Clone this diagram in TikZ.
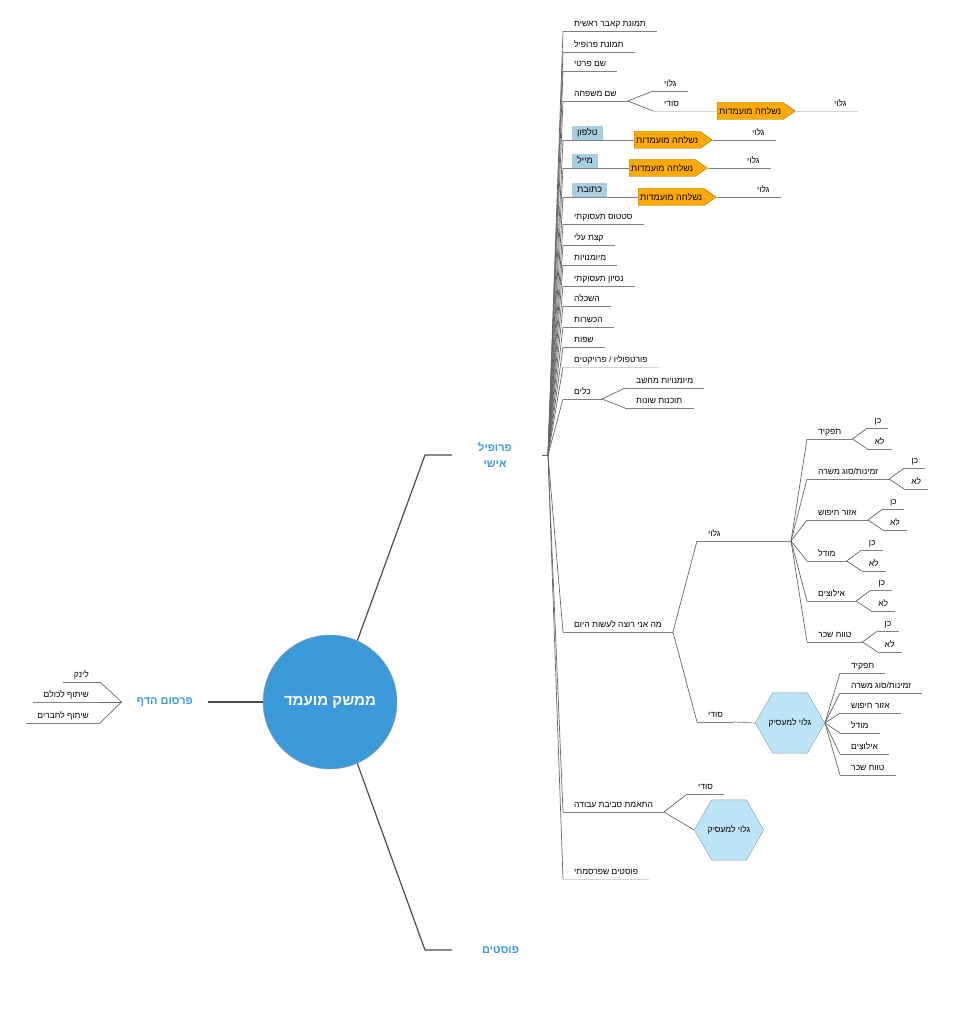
\documentclass[tikz,border=0pt]{standalone}
\usepackage{fontspec}
\usetikzlibrary{positioning,shapes.geometric,shapes.symbols}
\newfontfamily\hebfont[Script=Hebrew]{Liberation Sans}
\TeXXeTstate=1
\newcommand\heb[1]{\beginR#1\endR}
\newcommand\smallheb{\hebfont\fontsize{8.5}{10}\selectfont}
\newcommand\boxheb{\hebfont\fontsize{9}{11}\selectfont}
\newcommand\topicheb{\hebfont\bfseries\fontsize{11}{16}\selectfont}
\newcommand\centerheb{\hebfont\bfseries\fontsize{15}{18}\selectfont}
\definecolor{linegray}{HTML}{808080}
\definecolor{fangray}{HTML}{666666}
\definecolor{faintgray}{HTML}{D4D4D4}
\definecolor{darkline}{HTML}{4D4D4D}
\definecolor{topicblue}{HTML}{3A9AD9}
\definecolor{circleedge}{HTML}{9A9A9A}
\definecolor{fieldblue}{HTML}{A9CEDF}
\definecolor{hexblue}{HTML}{BDE5F7}
\definecolor{hexedge}{HTML}{7F9CA8}
\definecolor{sentorange}{HTML}{FFAA00}
\definecolor{sentedge}{HTML}{A07000}

\tikzset{
  leaf/.style={font=\smallheb, inner xsep=11pt, inner ysep=2.5pt,
    text height=6.5pt, text depth=1.5pt, anchor=south west,
    append after command={\pgfextra{\let\ulnode\tikzlastnode}
      (\ulnode.south west) edge[draw=#1, line width=0.7pt] (\ulnode.south east)}},
  leaf/.default=linegray,
  yn/.style={leaf, inner xsep=7pt},
  uline/.style={draw=linegray, line width=0.7pt},
  fan/.style={draw=fangray, line width=0.7pt},
  branch/.style={draw=darkline, line width=1.2pt},
  topic/.style={font=\topicheb, text=topicblue},
  field/.style={fill=fieldblue, font=\boxheb, inner xsep=5pt, inner ysep=2.5pt,
    text height=7pt, text depth=1.5pt, anchor=south west},
  sent/.style={signal, signal to=east, signal pointer angle=70, fill=sentorange,
    draw=sentedge, minimum height=17pt, minimum width=78pt, inner xsep=1pt,
    inner ysep=1pt, font=\boxheb, anchor=west},
  employer/.style={regular polygon, regular polygon sides=6, fill=hexblue,
    draw=hexedge, inner sep=0pt, font=\smallheb},
}

\begin{document}
\begin{tikzpicture}[x=1pt,y=-1pt]
\useasboundingbox (0,0) rectangle (970,1024);

% center and main topics
\node[circle, fill=topicblue, draw=circleedge, minimum size=134pt,
      font=\centerheb, text=white] (cand) at (330,702) {\heb{ממשק מועמד}};
\node[topic, anchor=west, inner xsep=26pt, align=center] (profile) at (452,455)
      {\heb{פרופיל}\\\heb{אישי}};
\node[topic, anchor=west, inner xsep=30pt] (posts) at (452,950) {\heb{פוסטים}};
\node[topic, anchor=east, inner xsep=15pt] (pub) at (208,702) {\heb{פרסום הדף}};

\coordinate (bendup) at (425,455);
\coordinate (benddown) at (425,950);
\coordinate (hub) at (548,455);
\draw[branch] (cand.66) -- (bendup) -- (profile.west);
\draw[branch] (cand.-66) -- (benddown) -- (posts.west);
\draw[branch] (cand.west) -- (pub.east);
\draw[fan] (hub) -- +(-6pt,0);

% page publishing
\node[leaf, anchor=south east] (link) at (100,682) {\heb{לינק}};
\node[leaf, anchor=south east] (shareall) at (100,702) {\heb{שיתוף לכולם}};
\node[leaf, anchor=south east] (sharefr) at (100,723) {\heb{שיתוף לחברים}};
\path[fan] (pub.west) edge (link.south east) edge (shareall.south east)
  edge (sharefr.south east);

% profile items
\node[leaf] (cover) at (563,31) {\heb{תמונת קאבר ראשית}};
\node[leaf] (pic) at (563,52) {\heb{תמונת פרופיל}};
\node[leaf] (fname) at (563,71) {\heb{שם פרטי}};
\node[leaf] (lname) at (563,101) {\heb{שם משפחה}};
\node[field] (tel) at (572,140) {\heb{טלפון}};
\node[field] (mail) at (572,168) {\heb{מייל}};
\node[field] (addr) at (572,197) {\heb{כתובת}};
\node[leaf] (status) at (563,224) {\heb{סטטוס תעסוקתי}};
\node[leaf] (about) at (563,245) {\heb{קצת עלי}};
\node[leaf] (skills) at (563,265) {\heb{מיומנויות}};
\node[leaf] (exper) at (563,286) {\heb{נסיון תעסוקתי}};
\node[leaf] (edu) at (563,306) {\heb{השכלה}};
\node[leaf] (train) at (563,327) {\heb{הכשרות}};
\node[leaf] (langs) at (563,347) {\heb{שפות}};
\node[leaf=faintgray] (portf) at (563,367) {\heb{פורטפוליו / פרויקטים}};
\node[leaf] (tools) at (563,399) {\heb{כלים}};
\node[leaf] (want) at (563,632) {\heb{מה אני רוצה לעשות היום}};
\node[leaf] (env) at (563,812) {\heb{התאמת סביבת עבודה}};
\node[leaf=faintgray] (myposts) at (563,879) {\heb{פוסטים שפרסמתי}};

\path[fan] (hub) edge (cover.south west) edge (pic.south west)
  edge (fname.south west) edge (lname.south west)
  edge ([xshift=-9pt]tel.south west) edge ([xshift=-9pt]mail.south west)
  edge ([xshift=-9pt]addr.south west) edge (status.south west)
  edge (about.south west) edge (skills.south west) edge (exper.south west)
  edge (edu.south west) edge (train.south west) edge (langs.south west)
  edge (portf.south west) edge (tools.south west) edge (want.south west)
  edge (env.south west) edge (myposts.south west);

% family name
\node[leaf] (lngl) at (653,91) {\heb{גלוי}};
\node[leaf=faintgray] (lnsd) at (653,111) {\heb{סודי}};
\node[sent] (sent0) at (717,111) {\heb{נשלחה מועמדות}};
\node[leaf=faintgray] (lngl2) at (823,111) {\heb{גלוי}};
\path[fan] (lname.south east) edge (lngl.south west) edge (lnsd.south west);
\draw[draw=faintgray, line width=0.7pt] (lnsd.south east) -- (sent0.west);
\draw[draw=faintgray, line width=0.7pt] (sent0.east) -- (lngl2.south west);

% phone, mail, address
\node[sent] (sent1) at (634,140) {\heb{נשלחה מועמדות}};
\node[leaf] (telgl) at (741,140) {\heb{גלוי}};
\node[sent] (sent2) at (629,168) {\heb{נשלחה מועמדות}};
\node[leaf] (mailgl) at (736,168) {\heb{גלוי}};
\node[sent] (sent3) at (638,197) {\heb{נשלחה מועמדות}};
\node[leaf] (addrgl) at (746,197) {\heb{גלוי}};
\draw[uline] ([xshift=-9pt]tel.south west) -- (sent1.west);
\draw[uline] (sent1.east) -- (telgl.south west);
\draw[uline] ([xshift=-9pt]mail.south west) -- (sent2.west);
\draw[uline] (sent2.east) -- (mailgl.south west);
\draw[uline] ([xshift=-9pt]addr.south west) -- (sent3.west);
\draw[uline] (sent3.east) -- (addrgl.south west);

% tools
\node[leaf] (pcskills) at (625,388) {\heb{מיומנויות מחשב}};
\node[leaf] (software) at (625,408) {\heb{תוכנות שונות}};
\path[fan] (tools.south east) edge (pcskills.south west) edge (software.south west);

% what I want to do today
\node[leaf] (wgl) at (697,541) {\heb{גלוי}};
\node[leaf] (wsd) at (697,722) {\heb{סודי}};
\coordinate (wglfan) at (791,541);
\path[fan] (want.south east) edge (wgl.south west) edge (wsd.south west);
\draw[uline] (wgl.south east) -- (wglfan);

\node[leaf] (gtask) at (807,439) {\heb{תפקיד}};
\node[leaf] (gavail) at (807,479) {\heb{זמינות/סוג משרה}};
\node[leaf] (garea) at (807,520) {\heb{אזור חיפוש}};
\node[leaf] (gmodel) at (807,561) {\heb{מודל}};
\node[leaf] (glimit) at (807,601) {\heb{אילוצים}};
\node[leaf] (gsalary) at (807,642) {\heb{טווח שכר}};
\path[fan] (wglfan) edge (gtask.south west) edge (gavail.south west)
  edge (garea.south west) edge (gmodel.south west)
  edge (glimit.south west) edge (gsalary.south west);

\node[yn] (gtaskY) [above right=11pt and 15pt of gtask.south east] {\heb{כן}};
\node[yn] (gtaskN) [above right=-10pt and 15pt of gtask.south east] {\heb{לא}};
\node[yn] (gavailY) [above right=11pt and 15pt of gavail.south east] {\heb{כן}};
\node[yn] (gavailN) [above right=-10pt and 15pt of gavail.south east] {\heb{לא}};
\node[yn] (gareaY) [above right=11pt and 15pt of garea.south east] {\heb{כן}};
\node[yn] (gareaN) [above right=-10pt and 15pt of garea.south east] {\heb{לא}};
\node[yn] (gmodelY) [above right=11pt and 15pt of gmodel.south east] {\heb{כן}};
\node[yn] (gmodelN) [above right=-10pt and 15pt of gmodel.south east] {\heb{לא}};
\node[yn] (glimitY) [above right=11pt and 15pt of glimit.south east] {\heb{כן}};
\node[yn] (glimitN) [above right=-10pt and 15pt of glimit.south east] {\heb{לא}};
\node[yn] (gsalaryY) [above right=11pt and 15pt of gsalary.south east] {\heb{כן}};
\node[yn] (gsalaryN) [above right=-10pt and 15pt of gsalary.south east] {\heb{לא}};
\path[fan] (gtask.south east) edge (gtaskY.south west) edge (gtaskN.south west);
\path[fan] (gavail.south east) edge (gavailY.south west) edge (gavailN.south west);
\path[fan] (garea.south east) edge (gareaY.south west) edge (gareaN.south west);
\path[fan] (gmodel.south east) edge (gmodelY.south west) edge (gmodelN.south west);
\path[fan] (glimit.south east) edge (glimitY.south west) edge (glimitN.south west);
\path[fan] (gsalary.south east) edge (gsalaryY.south west) edge (gsalaryN.south west);

\node[employer, minimum size=54pt] (hexA) at (790,723) {\heb{גלוי למעסיק}};
\draw[uline] (wsd.south east) -- (hexA.west);
\node[leaf] (stask) at (840,673) {\heb{תפקיד}};
\node[leaf] (savail) at (840,693) {\heb{זמינות/סוג משרה}};
\node[leaf] (sarea) at (840,713) {\heb{אזור חיפוש}};
\node[leaf] (smodel) at (840,733) {\heb{מודל}};
\node[leaf] (slimit) at (840,754) {\heb{אילוצים}};
\node[leaf] (ssalary) at (840,775) {\heb{טווח שכר}};
\path[fan] (hexA.east) edge (stask.south west) edge (savail.south west)
  edge (sarea.south west) edge (smodel.south west)
  edge (slimit.south west) edge (ssalary.south west);

% work environment
\node[leaf] (esd) at (687,794) {\heb{סודי}};
\node[employer, minimum size=68pt] (hexB) at (729,830) {\heb{גלוי למעסיק}};
\path[fan] (env.south east) edge (esd.south west) edge (hexB.west);
\end{tikzpicture}
\end{document}
